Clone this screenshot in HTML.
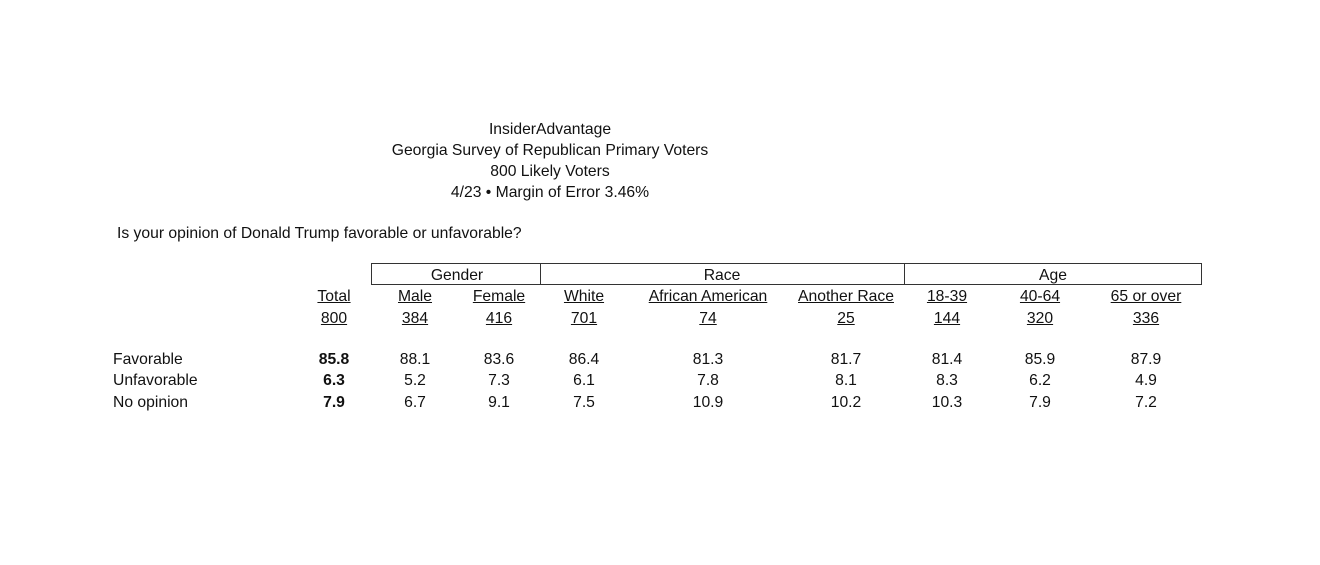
<!DOCTYPE html>
<html><head><meta charset="utf-8"><style>
body{margin:0;width:1320px;height:565px;background:#fff;position:relative;font-family:"Liberation Sans",Arial,sans-serif;font-size:15.7px;color:#111;overflow:hidden}
.t{position:absolute;white-space:nowrap;line-height:1}
.c{transform:translateX(-50%)}
.u{text-decoration:underline}
.b{font-weight:bold}
.box{position:absolute;border:1px solid #333;box-sizing:border-box}
</style></head><body>
<div class="t c" style="left:550px;top:122px">InsiderAdvantage</div>
<div class="t c" style="left:550px;top:143px">Georgia Survey of Republican Primary Voters</div>
<div class="t c" style="left:550px;top:164px">800 Likely Voters</div>
<div class="t c" style="left:550px;top:185px">4/23 • Margin of Error 3.46%</div>
<div class="t" style="left:117px;top:226px">Is your opinion of Donald Trump favorable or unfavorable?</div>

<div class="box" style="left:371px;top:263px;width:831px;height:22px"></div>
<div style="position:absolute;left:540px;top:263px;width:1px;height:22px;background:#333"></div>
<div style="position:absolute;left:904px;top:263px;width:1px;height:22px;background:#333"></div>
<div class="t c" style="left:457px;top:268px">Gender</div>
<div class="t c" style="left:722px;top:268px">Race</div>
<div class="t c" style="left:1053px;top:268px">Age</div>

<div class="t c u" style="left:334px;top:289px">Total</div>
<div class="t c u" style="left:415px;top:289px">Male</div>
<div class="t c u" style="left:499px;top:289px">Female</div>
<div class="t c u" style="left:584px;top:289px">White</div>
<div class="t c u" style="left:708px;top:289px">African American</div>
<div class="t c u" style="left:846px;top:289px">Another Race</div>
<div class="t c u" style="left:947px;top:289px">18-39</div>
<div class="t c u" style="left:1040px;top:289px">40-64</div>
<div class="t c u" style="left:1146px;top:289px">65 or over</div>

<div class="t c u" style="left:334px;top:311px">800</div>
<div class="t c u" style="left:415px;top:311px">384</div>
<div class="t c u" style="left:499px;top:311px">416</div>
<div class="t c u" style="left:584px;top:311px">701</div>
<div class="t c u" style="left:708px;top:311px">74</div>
<div class="t c u" style="left:846px;top:311px">25</div>
<div class="t c u" style="left:947px;top:311px">144</div>
<div class="t c u" style="left:1040px;top:311px">320</div>
<div class="t c u" style="left:1146px;top:311px">336</div>

<div class="t" style="left:113px;top:352px">Favorable</div>
<div class="t" style="left:113px;top:373px">Unfavorable</div>
<div class="t" style="left:113px;top:395px">No opinion</div>

<div class="t c b" style="left:334px;top:352px">85.8</div>
<div class="t c" style="left:415px;top:352px">88.1</div>
<div class="t c" style="left:499px;top:352px">83.6</div>
<div class="t c" style="left:584px;top:352px">86.4</div>
<div class="t c" style="left:708px;top:352px">81.3</div>
<div class="t c" style="left:846px;top:352px">81.7</div>
<div class="t c" style="left:947px;top:352px">81.4</div>
<div class="t c" style="left:1040px;top:352px">85.9</div>
<div class="t c" style="left:1146px;top:352px">87.9</div>

<div class="t c b" style="left:334px;top:373px">6.3</div>
<div class="t c" style="left:415px;top:373px">5.2</div>
<div class="t c" style="left:499px;top:373px">7.3</div>
<div class="t c" style="left:584px;top:373px">6.1</div>
<div class="t c" style="left:708px;top:373px">7.8</div>
<div class="t c" style="left:846px;top:373px">8.1</div>
<div class="t c" style="left:947px;top:373px">8.3</div>
<div class="t c" style="left:1040px;top:373px">6.2</div>
<div class="t c" style="left:1146px;top:373px">4.9</div>

<div class="t c b" style="left:334px;top:395px">7.9</div>
<div class="t c" style="left:415px;top:395px">6.7</div>
<div class="t c" style="left:499px;top:395px">9.1</div>
<div class="t c" style="left:584px;top:395px">7.5</div>
<div class="t c" style="left:708px;top:395px">10.9</div>
<div class="t c" style="left:846px;top:395px">10.2</div>
<div class="t c" style="left:947px;top:395px">10.3</div>
<div class="t c" style="left:1040px;top:395px">7.9</div>
<div class="t c" style="left:1146px;top:395px">7.2</div>
</body></html>
